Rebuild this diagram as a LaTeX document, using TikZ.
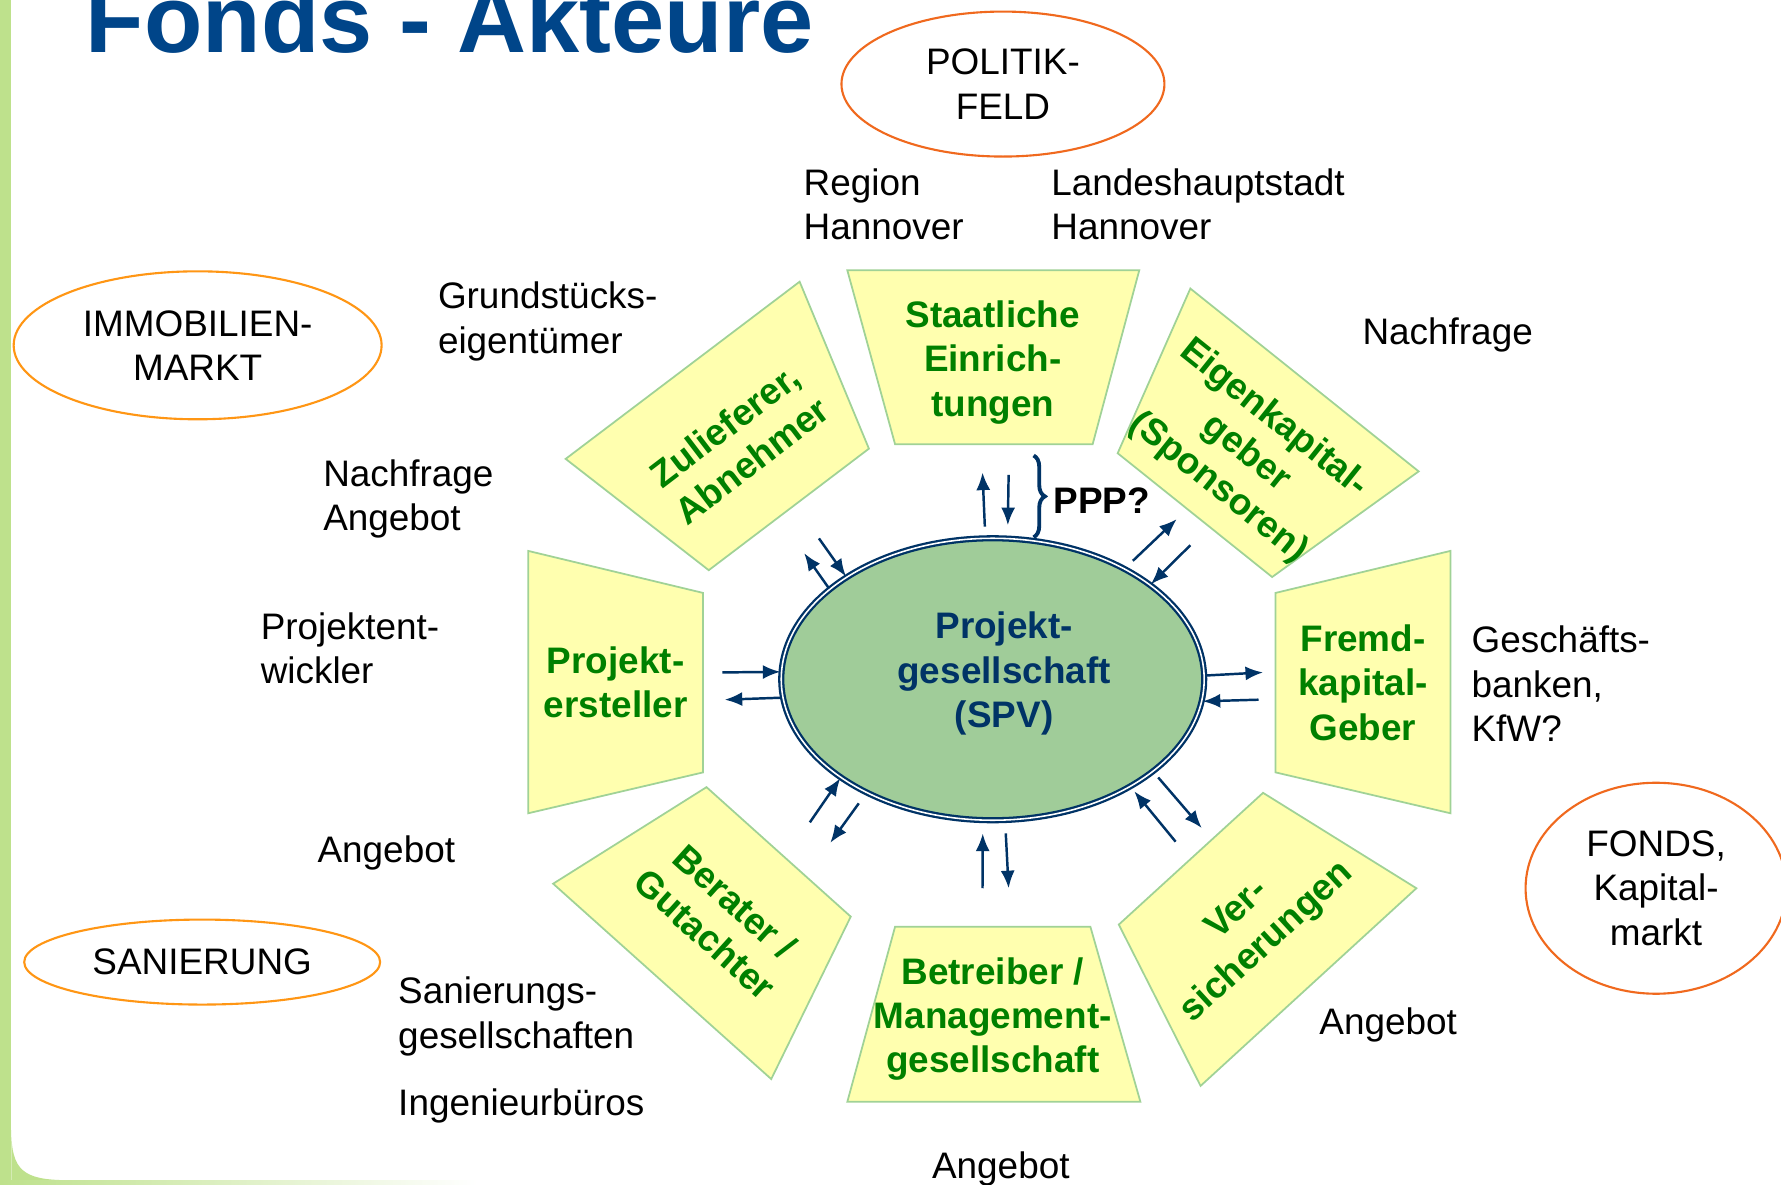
\documentclass[tikz,border=0pt]{standalone}
\usepackage{fontspec}
\setmainfont{Liberation Sans}
\usepackage{tikz}
\usetikzlibrary{arrows.meta,shapes.geometric,decorations.pathreplacing}
\definecolor{myNavy}{RGB}{0,51,102}
\definecolor{myGreen}{RGB}{0,128,0}
\definecolor{myYellow}{RGB}{255,255,175}
\definecolor{myEdge}{RGB}{160,210,150}
\definecolor{mySpv}{RGB}{160,204,153}
\definecolor{myOrange}{RGB}{255,150,20}
\definecolor{myRedOrange}{RGB}{240,105,30}
\definecolor{myTitle}{RGB}{0,69,137}
\definecolor{myFrame}{RGB}{190,225,140}

\begin{document}
\begin{tikzpicture}[x=0.1136mm,y=-0.1136mm,
        actorBox/.style={draw=myEdge, fill=myYellow, line width=0.5pt},
        actorText/.style={text=myGreen, font=\bfseries\fontsize{10.5}{12.6}\selectfont, align=center, inner sep=0pt},
        sideText/.style={font=\fontsize{10.5}{12.6}\selectfont, align=left, anchor=west, inner sep=0pt},
        marketOval/.style={ellipse, draw=myOrange, line width=0.6pt, font=\fontsize{10.5}{12.6}\selectfont, align=center, inner sep=0pt},
        flowArrow/.style={draw=myNavy, line width=0.7pt, -{Latex[length=5pt,width=4pt]}}]
    \clip (0,0) rectangle (1568,1043);
    \fill[white] (0,0) rectangle (1568,1043);
    \fill[myFrame] (0,0) rectangle (10,1043);
    \fill[myFrame] (10,995) .. controls (10,1030) and (20,1039) .. (60,1039) -- (10,1039) -- cycle;
    \shade[left color=myFrame, right color=white] (0,1039) rectangle (420,1043);

    \node[anchor=base west, inner sep=0pt, text=myTitle, font=\bfseries\fontsize{27.2}{32}\selectfont] (title) at (75,46) {Fonds - Akteure};

    \node[marketOval, draw=myRedOrange, minimum width=32.3mm, minimum height=14.5mm] (politik) at (883,74) {POLITIK-\\FELD};
    \node[marketOval, minimum width=36.8mm, minimum height=14.8mm] (immo) at (174,304) {IMMOBILIEN-\\MARKT};
    \node[marketOval, minimum width=35.6mm, minimum height=8.5mm] (sanier) at (178,847) {SANIERUNG};
    \node[marketOval, draw=myRedOrange, minimum width=26.1mm, minimum height=21.1mm] (fonds) at (1458,782) {FONDS,\\Kapital-\\markt};

    \draw[actorBox] (746,238) -- (1003,238) -- (962,391) -- (788,391) -- cycle;
    \node[actorText] (staat) at (874,319) {Staatliche\\Einrich-\\tungen};
    \draw[actorBox] (1048,254) -- (1249,415) -- (1120,508) -- (984,399) -- cycle;
    \node[actorText, rotate=-38.7] (eigen) at (1097,399) {Eigenkapital-\\geber\\(Sponsoren)};
    \draw[actorBox] (1123,522) -- (1277,485) -- (1277,716) -- (1123,680) -- cycle;
    \node[actorText] (fremd) at (1200,601) {Fremd-\\kapital-\\Geber};
    \draw[actorBox] (1112,698) -- (1247,782) -- (1057,956) -- (985,814) -- cycle;
    \node[actorText, rotate=42.5] (vers) at (1103,816) {Ver-\\sicherungen};
    \draw[actorBox] (788,816) -- (960,816) -- (1004,970) -- (746,970) -- cycle;
    \node[actorText] (betr) at (874,897) {Betreiber /\\Management-\\gesellschaft};
    \draw[actorBox] (622,693) -- (749,807) -- (679,950) -- (487,778) -- cycle;
    \node[actorText, rotate=-42] (berat) at (634,808) {Berater /\\Gutachter};
    \draw[actorBox] (465,485) -- (619,522) -- (619,680) -- (465,716) -- cycle;
    \node[actorText] (erst) at (542,601) {Projekt-\\ersteller};
    \draw[actorBox] (704,248) -- (765,395) -- (624,502) -- (498,404) -- cycle;
    \node[actorText, rotate=37.3] (zul) at (650,390) {Zulieferer,\\Abnehmer};

    \node[ellipse, draw=myNavy, double=white, double distance=0.45pt, line width=0.65pt, fill=mySpv,
          minimum width=42.3mm, minimum height=28.2mm, inner sep=0pt] (spv) at (874,598) {};
    \node[text=myNavy, font=\bfseries\fontsize{10.5}{12.6}\selectfont, align=center, inner sep=0pt] (spvText) at (884,593) {Projekt-\\gesellschaft\\(SPV)};

    \node[sideText] (region) at (707,180) {Region\\Hannover};
    \node[sideText] (lhs) at (925,180) {Landeshauptstadt\\Hannover};
    \node[sideText] (grund) at (385,283) {Grundstücks-\\eigentümer};
    \node[sideText] (nachfrage) at (1199,295) {Nachfrage};
    \node[sideText] (markt) at (284,439) {Nachfrage\\Angebot};
    \node[sideText] (entwickler) at (229,571) {Projektent-\\wickler};
    \node[sideText] (banken) at (1295,602) {Geschäfts-\\banken,\\KfW?};
    \node[sideText] (angLinks) at (279,751) {Angebot};
    \node[sideText] (sanGes) at (350,895) {Sanierungs-\\gesellschaften};
    \node[sideText] (ing) at (350,974) {Ingenieurbüros};
    \node[sideText] (angRechts) at (1161,902) {Angebot};
    \node[sideText] (angUnten) at (820,1029) {Angebot};
    \node[sideText] (ppp) at (927,441) {\textbf{PPP?}};
    \draw[myNavy, line width=1.1pt, decorate, decoration={brace, amplitude=3.2pt}] (910,401) -- (910,473);

    \coordinate (cN1) at (865,416);  \coordinate (cN2) at (888,418);
    \coordinate (cS1) at (865,782);  \coordinate (cS2) at (888,782);
    \coordinate (cW1) at (636,592);  \coordinate (cW2) at (638,616);
    \coordinate (cE1) at (1112,592); \coordinate (cE2) at (1108,616);
    \coordinate (cNW1) at (708,487); \coordinate (cNW2) at (721,474);
    \coordinate (cNE1) at (1036,457); \coordinate (cNE2) at (1048,480);
    \coordinate (cSW1) at (713,724); \coordinate (cSW2) at (731,742);
    \coordinate (cSE1) at (1035,741); \coordinate (cSE2) at (1058,729);

    \draw[flowArrow, shorten <=3pt] (spv.93.8) -- (cN1);
    \draw[flowArrow, shorten >=3.5pt] (cN2) -- (spv.84.1);
    \draw[flowArrow, shorten >=3.5pt] (cS1) -- (spv.266.2);
    \draw[flowArrow, shorten <=3.5pt] (spv.275.8) -- (cS2);
    \draw[flowArrow] (cW1) -- (spv.178.2);
    \draw[flowArrow] (spv.185.5) -- (cW2);
    \draw[flowArrow] (spv.1.8) -- (cE1);
    \draw[flowArrow] (cE2) -- (spv.354.5);
    \draw[flowArrow] (spv.151.1) -- (cNW1);
    \draw[flowArrow] (cNW2) -- (spv.145.3);
    \draw[flowArrow, shorten <=3pt] (spv.40.1) -- (cNE1);
    \draw[flowArrow] (cNE2) -- (spv.31);
    \draw[flowArrow] (cSW1) -- (spv.213.1);
    \draw[flowArrow, shorten <=3.5pt] (spv.222.2) -- (cSW2);
    \draw[flowArrow, shorten >=1.5pt] (cSE1) -- (spv.322.6);
    \draw[flowArrow, shorten <=2pt] (spv.330.9) -- (cSE2);
\end{tikzpicture}
\end{document}
